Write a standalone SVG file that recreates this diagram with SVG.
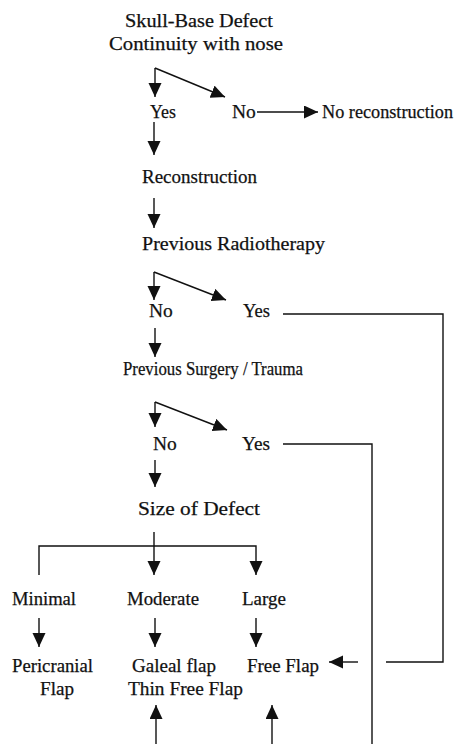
<svg xmlns="http://www.w3.org/2000/svg" width="459" height="744" viewBox="0 0 459 744">
<style>
text{font-family:"Liberation Serif","Times New Roman",serif;font-size:19.5px;fill:#111;stroke:#111;stroke-width:0.25}
.c path{fill:none;stroke:#111;stroke-width:1.4}
.a{marker-end:url(#ah)}
</style>
<defs>
<marker id="ah" markerUnits="userSpaceOnUse" markerWidth="15" markerHeight="14" refX="14" refY="6.5" orient="auto" viewBox="0 0 15 14">
<path d="M0,0 L14,6.5 L0,13 z" fill="#111"/>
</marker>
</defs>
<rect width="459" height="744" fill="#fff"/>
<g id="n-defect"><text x="125" y="27" textLength="148" lengthAdjust="spacingAndGlyphs">Skull-Base Defect</text><text x="109" y="50" textLength="174" lengthAdjust="spacingAndGlyphs">Continuity with nose</text></g>
<g id="n-yes1"><text x="150" y="118" textLength="26" lengthAdjust="spacingAndGlyphs">Yes</text></g>
<g id="n-no1"><text x="232" y="118">No</text></g>
<g id="n-norecon"><text x="322" y="118" style="font-size:18.5px" textLength="131" lengthAdjust="spacingAndGlyphs">No reconstruction</text></g>
<g id="n-recon"><text x="142" y="183" textLength="115" lengthAdjust="spacingAndGlyphs">Reconstruction</text></g>
<g id="n-radio"><text x="142" y="250" textLength="183" lengthAdjust="spacingAndGlyphs">Previous Radiotherapy</text></g>
<g id="n-no2"><text x="149" y="317">No</text></g>
<g id="n-yes2"><text x="243" y="317" textLength="27" lengthAdjust="spacingAndGlyphs">Yes</text></g>
<g id="n-surg"><text x="123" y="375" style="font-size:18.5px" textLength="180" lengthAdjust="spacingAndGlyphs">Previous Surgery / Trauma</text></g>
<g id="n-no3"><text x="153" y="450">No</text></g>
<g id="n-yes3"><text x="242" y="450" textLength="28" lengthAdjust="spacingAndGlyphs">Yes</text></g>
<g id="n-size"><text x="138" y="515" textLength="122" lengthAdjust="spacingAndGlyphs">Size of Defect</text></g>
<g id="n-min"><text x="12" y="605" textLength="64" lengthAdjust="spacingAndGlyphs">Minimal</text></g>
<g id="n-mod"><text x="127" y="605" textLength="72" lengthAdjust="spacingAndGlyphs">Moderate</text></g>
<g id="n-large"><text x="242" y="605" textLength="44" lengthAdjust="spacingAndGlyphs">Large</text></g>
<g id="n-peri"><text x="12" y="672" textLength="81" lengthAdjust="spacingAndGlyphs">Pericranial</text><text x="40" y="695" textLength="34" lengthAdjust="spacingAndGlyphs">Flap</text></g>
<g id="n-galeal"><text x="132" y="672" textLength="84" lengthAdjust="spacingAndGlyphs">Galeal flap</text><text x="128" y="695" textLength="115" lengthAdjust="spacingAndGlyphs">Thin Free Flap</text></g>
<g id="n-free"><text x="247" y="672" textLength="72" lengthAdjust="spacingAndGlyphs">Free Flap</text></g>
<g class="c" id="connectors">
<path class="a" d="M155,68 V97"/>
<path class="a" d="M155,68 L225,97"/>
<path class="a" d="M257,112 H318"/>
<path class="a" d="M154,122 V155"/>
<path class="a" d="M154,198 V228"/>
<path class="a" d="M154,272 V300"/>
<path class="a" d="M154,272 L226,300"/>
<path d="M283,314 H443 V662 H386"/>
<path class="a" d="M358,662 H329"/>
<path class="a" d="M155,328 V357"/>
<path class="a" d="M155,402 V427"/>
<path class="a" d="M155,402 L227,430"/>
<path d="M283,444 H372 V744"/>
<path class="a" d="M155,460 V487"/>
<path class="a" d="M154,532 V575"/>
<path class="a" d="M39,575 V546 H256 V575"/>
<path class="a" d="M39,618 V647"/>
<path class="a" d="M155,618 V647"/>
<path class="a" d="M256,618 V647"/>
<path class="a" d="M156,744 V705"/>
<path class="a" d="M272,744 V705"/>
</g>
</svg>
